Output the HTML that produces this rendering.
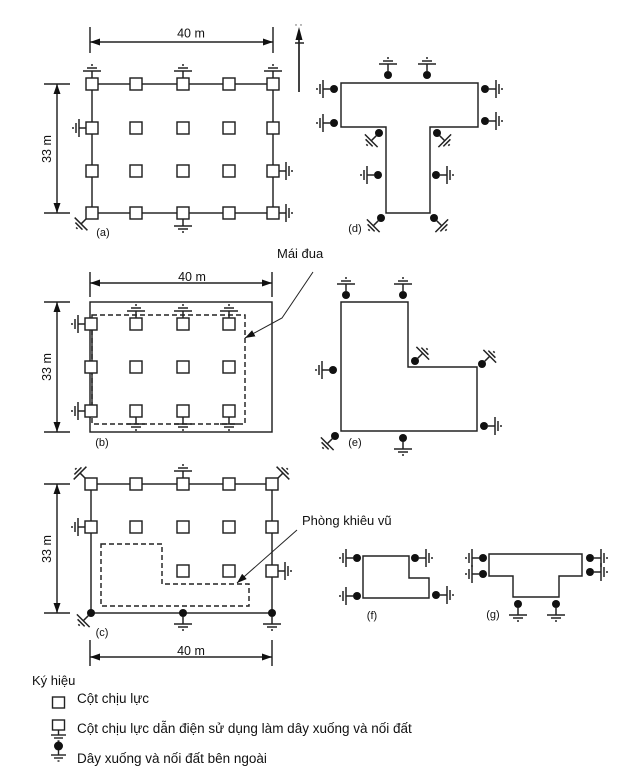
<!DOCTYPE html>
<html><head><meta charset="utf-8"><style>
html,body{margin:0;padding:0;background:#fff;}
svg{display:block;}
text{font-family:"Liberation Sans",Arial,sans-serif;fill:#111;}
</style></head><body>
<svg width="618" height="778" viewBox="0 0 618 778" xmlns="http://www.w3.org/2000/svg">
<defs>
<g id="g" stroke="#222" stroke-width="1.5" fill="none">
<line x1="0" y1="0" x2="0" y2="7"/>
<line x1="-9" y1="7" x2="9" y2="7"/>
<line x1="-5" y1="10" x2="5" y2="10"/>
<line x1="-1" y1="13" x2="1" y2="13"/>
</g>
<marker id="ar" markerUnits="userSpaceOnUse" markerWidth="11" markerHeight="7" refX="10" refY="3.5" orient="auto-start-reverse">
<path d="M0,0 L10,3.5 L0,7 z" fill="#111"/>
</marker>
<marker id="ar2" markerUnits="userSpaceOnUse" markerWidth="11" markerHeight="7" refX="10" refY="3.5" orient="auto">
<path d="M0,0 L10,3.5 L0,7 z" fill="#111"/>
</marker>
</defs>

<g stroke="#222" stroke-width="1.45" fill="none">
<!-- ===== (a) ===== -->
<line x1="90" y1="27" x2="90" y2="53"/>
<line x1="273" y1="27" x2="273" y2="53"/>
<line x1="90" y1="42" x2="273" y2="42" marker-start="url(#ar)" marker-end="url(#ar)"/>
<line x1="44" y1="84" x2="70" y2="84"/>
<line x1="44" y1="213" x2="70" y2="213"/>
<line x1="57" y1="84" x2="57" y2="213" marker-start="url(#ar)" marker-end="url(#ar)"/>
<rect x="92" y="84" width="181" height="129"/>
</g>
<g stroke="#222" stroke-width="1.45" fill="#fff">
<rect x="86" y="78" width="12" height="12"/><rect x="130" y="78" width="12" height="12"/><rect x="177" y="78" width="12" height="12"/><rect x="223" y="78" width="12" height="12"/><rect x="267" y="78" width="12" height="12"/>
<rect x="86" y="122" width="12" height="12"/><rect x="130" y="122" width="12" height="12"/><rect x="177" y="122" width="12" height="12"/><rect x="223" y="122" width="12" height="12"/><rect x="267" y="122" width="12" height="12"/>
<rect x="86" y="165" width="12" height="12"/><rect x="130" y="165" width="12" height="12"/><rect x="177" y="165" width="12" height="12"/><rect x="223" y="165" width="12" height="12"/><rect x="267" y="165" width="12" height="12"/>
<rect x="86" y="207" width="12" height="12"/><rect x="130" y="207" width="12" height="12"/><rect x="177" y="207" width="12" height="12"/><rect x="223" y="207" width="12" height="12"/><rect x="267" y="207" width="12" height="12"/>
</g>
<use href="#g" transform="translate(92,78) rotate(180)"/>
<use href="#g" transform="translate(183,78) rotate(180)"/>
<use href="#g" transform="translate(273,78) rotate(180)"/>
<use href="#g" transform="translate(86,128) rotate(90)"/>
<use href="#g" transform="translate(279,171) rotate(-90)"/>
<use href="#g" transform="translate(279,213) rotate(-90)"/>
<use href="#g" transform="translate(183,219)"/>
<use href="#g" transform="translate(86,219) rotate(45)"/>
<text x="191" y="37.5" font-size="12.5" text-anchor="middle">40 m</text>
<text x="47" y="149" font-size="12.5" text-anchor="middle" dominant-baseline="central" transform="rotate(-90 47 149)">33 m</text>
<text x="103" y="236" font-size="11" text-anchor="middle">(a)</text>

<!-- north arrow -->
<line x1="299" y1="36" x2="299" y2="92" stroke="#222" stroke-width="1.7"/>
<polygon points="299,27 295.5,40 302.5,40" fill="#111"/>
<line x1="295" y1="43" x2="304" y2="43" stroke="#222" stroke-width="1.5"/>
<circle cx="296" cy="25" r="0.7" fill="#555"/><circle cx="301" cy="25" r="0.7" fill="#555"/>

<!-- ===== (d) ===== -->
<path d="M341,83 H478 V127 H430 V213 H386 V127 H341 Z" stroke="#222" stroke-width="1.45" fill="none"/>
<g fill="#111">
<circle cx="388" cy="75" r="4"/><circle cx="427" cy="75" r="4"/>
<circle cx="334" cy="89" r="4"/><circle cx="334" cy="123" r="4"/>
<circle cx="485" cy="89" r="4"/><circle cx="485" cy="121" r="4"/>
<circle cx="379" cy="133" r="4"/><circle cx="437" cy="133" r="4"/>
<circle cx="378" cy="175" r="4"/><circle cx="436" cy="175" r="4"/>
<circle cx="381" cy="218" r="4"/><circle cx="434" cy="218" r="4"/>
</g>
<use href="#g" transform="translate(388,71) rotate(180)"/>
<use href="#g" transform="translate(427,71) rotate(180)"/>
<use href="#g" transform="translate(330,89) rotate(90)"/>
<use href="#g" transform="translate(330,123) rotate(90)"/>
<use href="#g" transform="translate(489,89) rotate(-90)"/>
<use href="#g" transform="translate(489,121) rotate(-90)"/>
<use href="#g" transform="translate(376.2,135.8) rotate(45)"/>
<use href="#g" transform="translate(439.8,135.8) rotate(-45)"/>
<use href="#g" transform="translate(374,175) rotate(90)"/>
<use href="#g" transform="translate(440,175) rotate(-90)"/>
<use href="#g" transform="translate(378.2,220.8) rotate(45)"/>
<use href="#g" transform="translate(436.8,220.8) rotate(-45)"/>
<text x="355" y="232" font-size="11" text-anchor="middle">(d)</text>

<!-- ===== (b) ===== -->
<g stroke="#222" stroke-width="1.45" fill="none">
<line x1="90" y1="272" x2="90" y2="297"/>
<line x1="272" y1="272" x2="272" y2="297"/>
<line x1="90" y1="283" x2="272" y2="283" marker-start="url(#ar)" marker-end="url(#ar)"/>
<line x1="44" y1="302" x2="70" y2="302"/>
<line x1="44" y1="432" x2="70" y2="432"/>
<line x1="57" y1="302" x2="57" y2="432" marker-start="url(#ar)" marker-end="url(#ar)"/>
<rect x="90" y="302" width="182" height="130"/>
<line x1="92" y1="324" x2="92" y2="411"/>
<rect x="92" y="315" width="153" height="109" stroke-dasharray="5 3"/>
<polyline points="313,272 282,318 245,338" stroke-width="1" marker-end="url(#ar2)"/>
</g>
<g stroke="#222" stroke-width="1.45" fill="#fff">
<rect x="85" y="318" width="12" height="12"/><rect x="130" y="318" width="12" height="12"/><rect x="177" y="318" width="12" height="12"/><rect x="223" y="318" width="12" height="12"/>
<rect x="85" y="361" width="12" height="12"/><rect x="130" y="361" width="12" height="12"/><rect x="177" y="361" width="12" height="12"/><rect x="223" y="361" width="12" height="12"/>
<rect x="85" y="405" width="12" height="12"/><rect x="130" y="405" width="12" height="12"/><rect x="177" y="405" width="12" height="12"/><rect x="223" y="405" width="12" height="12"/>
</g>
<use href="#g" transform="translate(85,324) rotate(90)"/>
<use href="#g" transform="translate(85,411) rotate(90)"/>
<use href="#g" transform="translate(136,318) rotate(180)"/>
<use href="#g" transform="translate(183,318) rotate(180)"/>
<use href="#g" transform="translate(229,318) rotate(180)"/>
<use href="#g" transform="translate(136,417)"/>
<use href="#g" transform="translate(183,417)"/>
<use href="#g" transform="translate(229,417)"/>
<text x="192" y="281" font-size="12.5" text-anchor="middle">40 m</text>
<text x="47" y="367" font-size="12.5" text-anchor="middle" dominant-baseline="central" transform="rotate(-90 47 367)">33 m</text>
<text x="102" y="446" font-size="11" text-anchor="middle">(b)</text>
<text x="277" y="258" font-size="13">Mái đua</text>

<!-- ===== (e) ===== -->
<path d="M341,302 H408 V367 H477 V431 H341 Z" stroke="#222" stroke-width="1.45" fill="none"/>
<g fill="#111">
<circle cx="346" cy="295" r="4"/><circle cx="403" cy="295" r="4"/>
<circle cx="333" cy="370" r="4"/>
<circle cx="415" cy="361" r="4"/><circle cx="482" cy="364" r="4"/>
<circle cx="484" cy="426" r="4"/>
<circle cx="403" cy="438" r="4"/>
<circle cx="335" cy="436" r="4"/>
</g>
<use href="#g" transform="translate(346,291) rotate(180)"/>
<use href="#g" transform="translate(403,291) rotate(180)"/>
<use href="#g" transform="translate(329,370) rotate(90)"/>
<use href="#g" transform="translate(417.8,358.2) rotate(225)"/>
<use href="#g" transform="translate(484.8,361.2) rotate(225)"/>
<use href="#g" transform="translate(488,426) rotate(-90)"/>
<use href="#g" transform="translate(403,442)"/>
<use href="#g" transform="translate(332.2,438.8) rotate(45)"/>
<text x="355" y="446" font-size="11" text-anchor="middle">(e)</text>

<!-- ===== (c) ===== -->
<g stroke="#222" stroke-width="1.45" fill="none">
<line x1="44" y1="484" x2="70" y2="484"/>
<line x1="44" y1="613" x2="70" y2="613"/>
<line x1="57" y1="484" x2="57" y2="613" marker-start="url(#ar)" marker-end="url(#ar)"/>
<rect x="91" y="484" width="181" height="129"/>
<path d="M101,544 H162 V584 H249 V606 H101 Z" stroke-dasharray="5 3"/>
<line x1="90" y1="640" x2="90" y2="666"/>
<line x1="272" y1="640" x2="272" y2="666"/>
<line x1="90" y1="657" x2="272" y2="657" marker-start="url(#ar)" marker-end="url(#ar)"/>
<line x1="297" y1="530" x2="237" y2="583" stroke-width="1" marker-end="url(#ar2)"/>
</g>
<g stroke="#222" stroke-width="1.45" fill="#fff">
<rect x="85" y="478" width="12" height="12"/><rect x="130" y="478" width="12" height="12"/><rect x="177" y="478" width="12" height="12"/><rect x="223" y="478" width="12" height="12"/><rect x="266" y="478" width="12" height="12"/>
<rect x="85" y="521" width="12" height="12"/><rect x="130" y="521" width="12" height="12"/><rect x="177" y="521" width="12" height="12"/><rect x="223" y="521" width="12" height="12"/><rect x="266" y="521" width="12" height="12"/>
<rect x="177" y="565" width="12" height="12"/><rect x="223" y="565" width="12" height="12"/><rect x="266" y="565" width="12" height="12"/>
</g>
<g fill="#111">
<circle cx="91" cy="613" r="4"/><circle cx="183" cy="613" r="4"/><circle cx="272" cy="613" r="4"/>
</g>
<use href="#g" transform="translate(85,478) rotate(135)"/>
<use href="#g" transform="translate(278,478) rotate(225)"/>
<use href="#g" transform="translate(183,478) rotate(180)"/>
<use href="#g" transform="translate(85,527) rotate(90)"/>
<use href="#g" transform="translate(278,571) rotate(-90)"/>
<use href="#g" transform="translate(183,617)"/>
<use href="#g" transform="translate(272,617)"/>
<use href="#g" transform="translate(88.2,615.8) rotate(45)"/>
<text x="47" y="549" font-size="12.5" text-anchor="middle" dominant-baseline="central" transform="rotate(-90 47 549)">33 m</text>
<text x="191" y="655" font-size="12.5" text-anchor="middle">40 m</text>
<text x="102" y="636" font-size="11" text-anchor="middle">(c)</text>
<text x="302" y="525" font-size="13">Phòng khiêu vũ</text>

<!-- ===== (f) ===== -->
<path d="M363,556 H409 V578 H429 V598 H363 Z" stroke="#222" stroke-width="1.45" fill="none"/>
<g fill="#111">
<circle cx="357" cy="558" r="4"/><circle cx="415" cy="558" r="4"/>
<circle cx="357" cy="596" r="4"/><circle cx="436" cy="595" r="4"/>
</g>
<use href="#g" transform="translate(353,558) rotate(90)"/>
<use href="#g" transform="translate(419,558) rotate(-90)"/>
<use href="#g" transform="translate(353,596) rotate(90)"/>
<use href="#g" transform="translate(440,595) rotate(-90)"/>
<text x="372" y="619" font-size="11" text-anchor="middle">(f)</text>

<!-- ===== (g) ===== -->
<path d="M489,554 H582 V576 H559 V597 H513 V576 H489 Z" stroke="#222" stroke-width="1.45" fill="none"/>
<g fill="#111">
<circle cx="483" cy="558" r="4"/><circle cx="483" cy="574" r="4"/>
<circle cx="590" cy="558" r="4"/><circle cx="590" cy="572" r="4"/>
<circle cx="518" cy="604" r="4"/><circle cx="556" cy="604" r="4"/>
</g>
<use href="#g" transform="translate(479,558) rotate(90)"/>
<use href="#g" transform="translate(479,574) rotate(90)"/>
<use href="#g" transform="translate(594,558) rotate(-90)"/>
<use href="#g" transform="translate(594,572) rotate(-90)"/>
<use href="#g" transform="translate(518,608)"/>
<use href="#g" transform="translate(556,608)"/>
<text x="493" y="618" font-size="11" text-anchor="middle">(g)</text>

<!-- ===== Legend ===== -->
<text x="32" y="685" font-size="13">Ký hiệu</text>
<rect x="52.5" y="697" width="12" height="11" stroke="#222" stroke-width="1.4" fill="#fff"/>
<text x="77" y="703" font-size="13.5">Cột chịu lực</text>
<rect x="52.5" y="720" width="12" height="10" stroke="#222" stroke-width="1.4" fill="#fff"/>
<g stroke="#222" stroke-width="1.4">
<line x1="58.5" y1="730" x2="58.5" y2="735"/>
<line x1="51" y1="735" x2="66" y2="735"/>
<line x1="54" y1="738" x2="63" y2="738"/>
<line x1="57.5" y1="741" x2="59.5" y2="741"/>
</g>
<text x="77" y="733" font-size="13.5">Cột chịu lực dẫn điện sử dụng làm dây xuống và nối đất</text>
<circle cx="58.5" cy="746" r="4.5" fill="#111"/>
<g stroke="#222" stroke-width="1.4">
<line x1="58.5" y1="750" x2="58.5" y2="755"/>
<line x1="51" y1="755" x2="66" y2="755"/>
<line x1="54" y1="758" x2="63" y2="758"/>
<line x1="57.5" y1="761" x2="59.5" y2="761"/>
</g>
<text x="77" y="763" font-size="13.5">Dây xuống và nối đất bên ngoài</text>
</svg>
</body></html>
